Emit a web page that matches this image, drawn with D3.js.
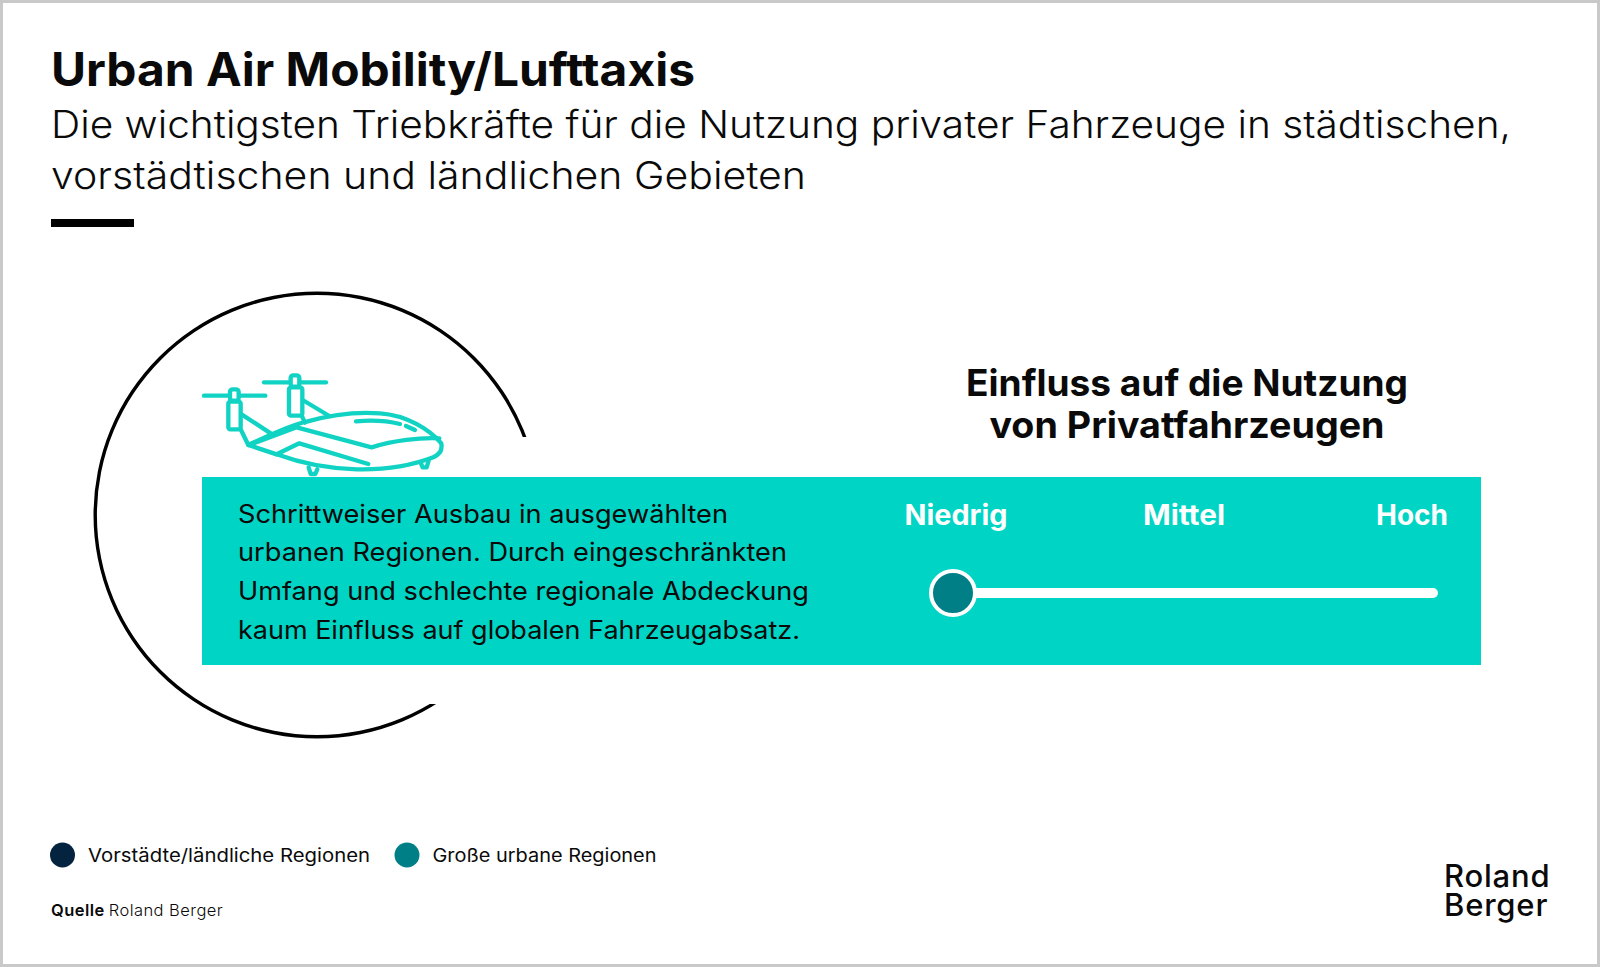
<!DOCTYPE html>
<html lang="de"><head><meta charset="utf-8">
<script src="https://cdn.jsdelivr.net/npm/d3@7"></script>
<style>html,body{margin:0;padding:0;background:#fff}svg{display:block}text{font-family:Inter,"Open Sans",sans-serif}</style>
</head><body><div id="chart"></div>
<script>
const title = "Urban Air Mobility/Lufttaxis";
const subtitleLines = ["Die wichtigsten Triebkräfte für die Nutzung privater Fahrzeuge in städtischen,", "vorstädtischen und ländlichen Gebieten"];
const subtitleWidths = [1460, 755];
const headingLines = ["Einfluss auf die Nutzung", "von Privatfahrzeugen"];
const headingWidths = [442, 395];
const bodyLines = ["Schrittweiser Ausbau in ausgewählten", "urbanen Regionen. Durch eingeschränkten", "Umfang und schlechte regionale Abdeckung", "kaum Einfluss auf globalen Fahrzeugabsatz."];
const bodyWidths = [490, 549, 571, 562];
const levels = ["Niedrig", "Mittel", "Hoch"];
const levelWidths = [103, 82, 72];
const sliderValue = 0;
const legendItems = ["Vorstädte/ländliche Regionen", "Große urbane Regionen"];
const legendWidths = [282, 224];
const legendColors = ["#04233f", "#007f86"];
const W = 1600, H = 967, TEAL = "#00d4c4", ICON = "#10d3c3", INK = "#0a0a0a";

const svg = d3.select("#chart").append("svg").attr("width", W).attr("height", H);
svg.append("rect").attr("width", W).attr("height", H).attr("fill", "#fff");
svg.append("rect").attr("x", 1.5).attr("y", 1.5).attr("width", W - 3).attr("height", H - 3)
  .attr("fill", "none").attr("stroke", "#c9c9c9").attr("stroke-width", 3);

function txt(x, y, s, size, weight, fill, anchor, width) {
  const t = svg.append("text").attr("x", x).attr("y", y).text(s)
    .attr("font-size", size).attr("font-weight", weight).attr("fill", fill || INK)
    .attr("text-anchor", anchor || "start");
  if (width) t.attr("textLength", width).attr("lengthAdjust", "spacingAndGlyphs");
  return t;
}
txt(51, 86, title, 46, 700, INK, "start", 644);
subtitleLines.forEach((s, i) => txt(51, 138 + i * 51, s, 38, 300, INK, "start", subtitleWidths[i]));
svg.append("rect").attr("x", 51).attr("y", 219).attr("width", 83).attr("height", 8).attr("fill", "#000");

// open ring, its right side hidden behind a white panel
const cx = 317, cy = 515, r = 223.5;
const arc = d3.arc().innerRadius(r - 3.5).outerRadius(r).startAngle(0).endAngle(2 * Math.PI);
svg.append("path").attr("transform", `translate(${cx},${cy})`).attr("d", arc()).attr("fill", "#000");
svg.append("rect").attr("x", 340).attr("y", 437).attr("width", 220).attr("height", 267).attr("fill", "#fff");

// aircraft icon
const icon = svg.append("g").attr("transform", "translate(180,350) scale(0.3333)")
  .attr("fill", "none").attr("stroke", ICON).attr("stroke-width", 13)
  .attr("stroke-linecap", "round").attr("stroke-linejoin", "round");
["M72 137H256", "M252 97H438",
 "M180 190L272 250", "M182 238L205 285", "M368 150L448 198", "M365 197L375 218",
 "M205 285C250 265 330 225 380 215C450 195 530 185 600 190C680 195 750 240 784 280C787 300 782 310 760 322C700 345 620 360 530 358C440 356 350 335 290 313Z",
 "M208 285L350 232L575 292C640 272 720 262 778 265",
 "M290 313L358 280L565 342",
 "M528 214C570 210 620 212 660 222", "M678 228L705 240",
 "M386 352L392 372L406 372L412 358", "M722 338L728 352L740 352L746 332"
].forEach(d => icon.append("path").attr("d", d));
[[150,118,26,34,8],[145,155,37,83,6],[332,76,26,34,8],[327,112,40,85,6]].forEach(b =>
  icon.append("rect").attr("x", b[0]).attr("y", b[1]).attr("width", b[2]).attr("height", b[3]).attr("rx", b[4]).attr("fill", "#fff"));

// band
svg.append("rect").attr("x", 202).attr("y", 477).attr("width", 1279).attr("height", 188).attr("fill", TEAL);
bodyLines.forEach((s, i) => txt(238, 522.5 + i * 38.8, s, 25.5, 400, INK, "start", bodyWidths[i]));

headingLines.forEach((s, i) => txt(1187, 396 + i * 42, s, 37, 700, INK, "middle", headingWidths[i]));

// level scale
const xLevel = d3.scalePoint().domain(levels).range([956, 1412]);
levels.forEach((l, i) => txt(xLevel(l), 525, l, 28, 700, "#fff", "middle", levelWidths[i]));
const xSlider = d3.scaleLinear().domain([0, 1]).range([953, 1433]);
svg.append("line").attr("x1", xSlider(0)).attr("x2", xSlider(1)).attr("y1", 593).attr("y2", 593)
  .attr("stroke", "#fff").attr("stroke-width", 10).attr("stroke-linecap", "round");
svg.append("circle").attr("cx", xSlider(sliderValue)).attr("cy", 593).attr("r", 22)
  .attr("fill", legendColors[1]).attr("stroke", "#fff").attr("stroke-width", 4);

// legend
const legendDotX = [62.5, 407], legendTextX = [88, 432.5];
legendItems.forEach((s, i) => {
  svg.append("circle").attr("cx", legendDotX[i]).attr("cy", 855).attr("r", 12.5).attr("fill", legendColors[i]);
  txt(legendTextX[i], 862, s, 18.5, 400, INK, "start", legendWidths[i]);
});
const src = txt(51, 916, "Quelle", 16.5, 600, INK);
src.append("tspan").attr("font-weight", 300).attr("dx", 4).text("Roland Berger");
src.attr("letter-spacing", 0.45);

// logo
const logo = svg.append("text").attr("font-size", 31).attr("font-weight", 500).attr("fill", INK).attr("letter-spacing", 0.8);
logo.append("tspan").attr("x", 1444).attr("y", 887).text("Roland");
logo.append("tspan").attr("x", 1444).attr("y", 916).text("Berger");
</script></body></html>
